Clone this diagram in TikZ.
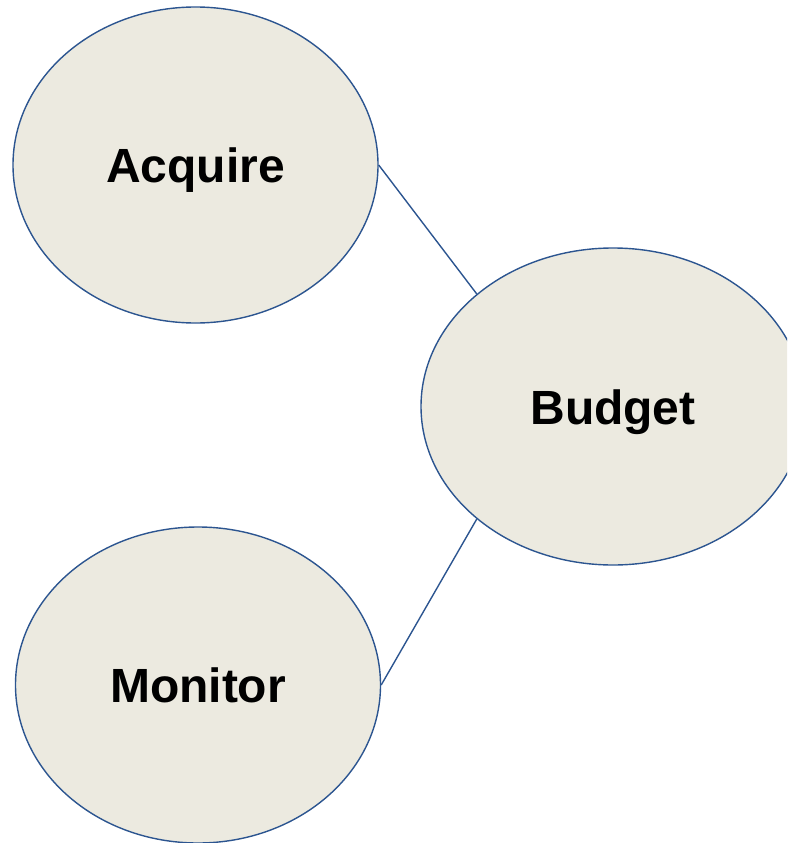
\documentclass[tikz,border=0pt]{standalone}
\usepackage{fontspec}
\setmainfont{Liberation Sans}
\usetikzlibrary{shapes.geometric}
\definecolor{ellfill}{HTML}{ECEAE0}
\definecolor{ellline}{HTML}{2C5590}
\tikzset{
  bubble/.style={ellipse, draw=ellline, fill=ellfill, line width=1.4pt, inner sep=0pt,
    font=\fontsize{48}{56}\selectfont\bfseries, text height=35pt, text depth=0pt},
  link/.style={draw=ellline, line width=1.4pt}
}
\begin{document}
\begin{tikzpicture}[x=1pt,y=-1pt]
\useasboundingbox (0,0) rectangle (787,843);
\clip (0,0) rectangle (787,843);
\node[bubble, minimum width=365pt, minimum height=316pt] (acq) at (195.5,165) {Acquire};
\node[bubble, minimum width=384pt, minimum height=317pt] (bud) at (613,406.5) {Budget};
\node[bubble, minimum width=365pt, minimum height=316pt] (mon) at (198,685) {Monitor};
\draw[link] (acq.east) -- (bud.north west);
\draw[link] (mon.east) -- (bud.south west);
\end{tikzpicture}
\end{document}
